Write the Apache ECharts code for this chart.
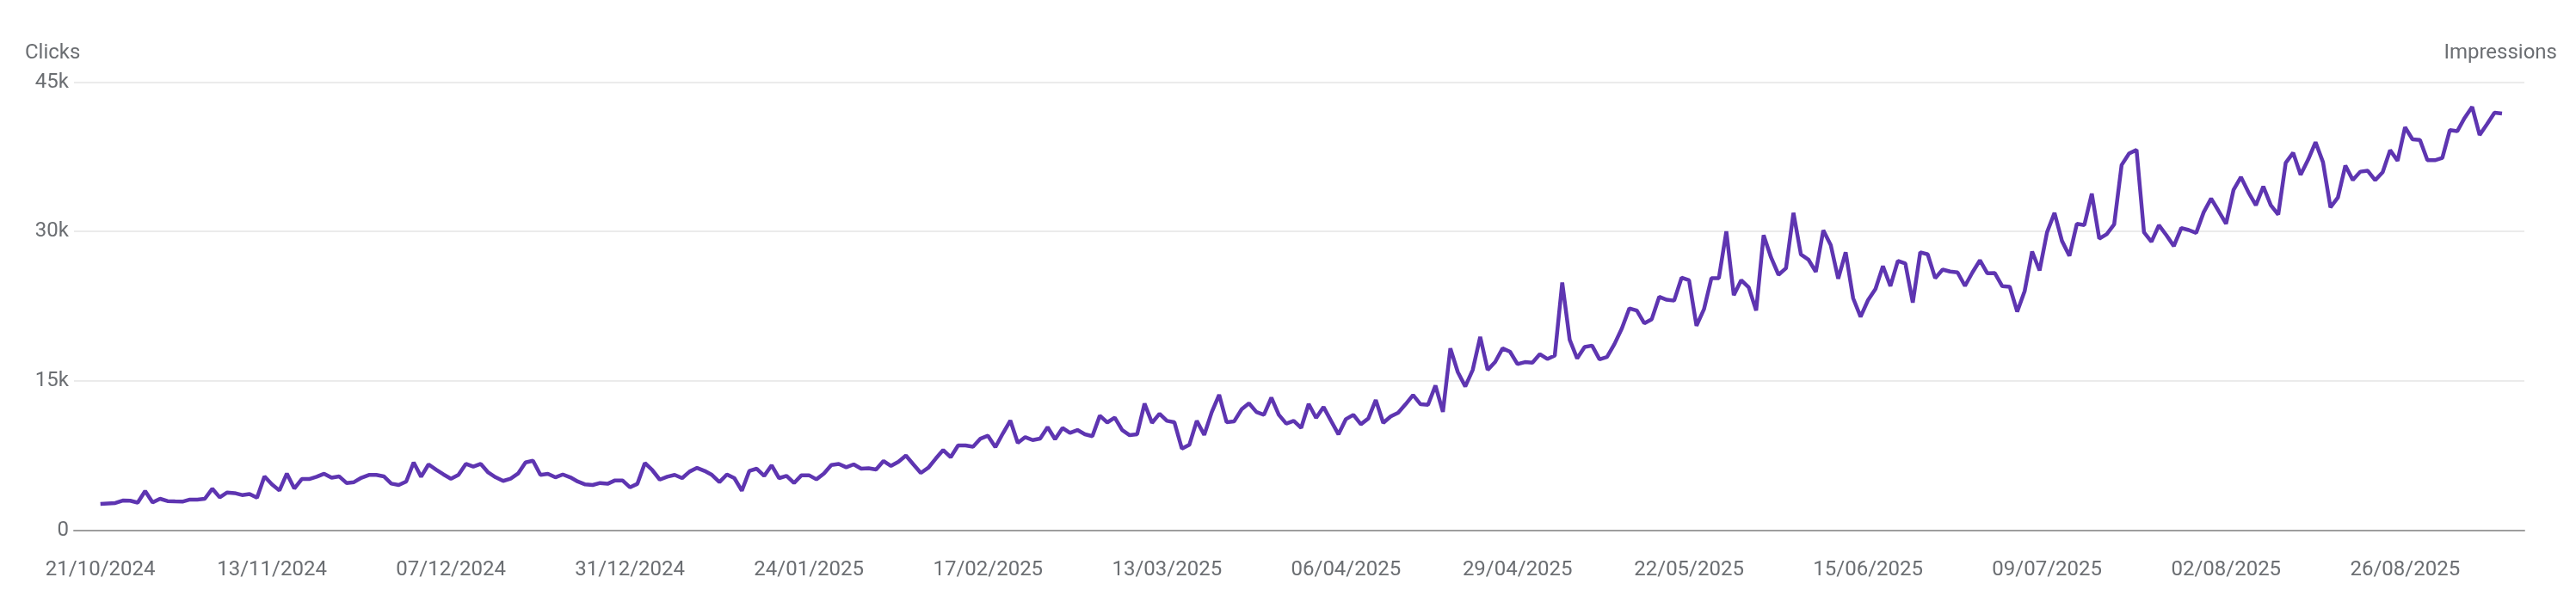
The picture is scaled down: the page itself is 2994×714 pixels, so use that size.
<!DOCTYPE html>
<html>
<head>
<meta charset="utf-8">
<title>Clicks</title>
<script src="https://cdn.jsdelivr.net/npm/echarts@6/dist/echarts.min.js"></script>
<style>
html, body { margin: 0; background: #fff; }
#chart { width: 2994px; height: 714px; }
</style>
</head>
<body>
<div id="chart"></div>
<script>
// daily clicks, one value per day starting 21/10/2024
var clicks = [
  2650, 2700, 2740, 2990, 2970, 2780, 3940, 2800, 3170, 2940,
  2900, 2880, 3090, 3090, 3170, 4175, 3310, 3800, 3740, 3540,
  3650, 3280, 5410, 4610, 4000, 5700, 4200, 5150, 5150, 5380,
  5680, 5280, 5420, 4750, 4840, 5280, 5560, 5560, 5420, 4690,
  4550, 4900, 6820, 5380, 6620, 6100, 5610, 5180, 5560, 6670,
  6390, 6670, 5810, 5320, 4960, 5180, 5700, 6820, 6990, 5560,
  5670, 5320, 5610, 5320, 4900, 4610, 4550, 4750, 4670, 5010,
  5010, 4320, 4670, 6760, 6040, 5090, 5380, 5560, 5240, 5900,
  6270, 5970, 5560, 4840, 5610, 5240, 3970, 5960, 6190, 5470,
  6530, 5240, 5470, 4750, 5530, 5530, 5120, 5700, 6560, 6670,
  6330, 6620, 6190, 6240, 6100, 6960, 6470, 6880, 7510, 6620,
  5760, 6280, 7200, 8060, 7340, 8520, 8520, 8400, 9210, 9500,
  8350, 9730, 11020, 8780, 9360, 9060, 9210, 10360, 9150, 10270,
  9780, 10070, 9640, 9450, 11510, 10830, 11310, 10070, 9550, 9640,
  12720, 10790, 11710, 10990, 10850, 8200, 8580, 10990, 9580, 11860,
  13610, 10850, 10930, 12140, 12750, 11880, 11600, 13320, 11600, 10710,
  10990, 10290, 12690, 11290, 12380, 10990, 9640, 11170, 11600, 10650,
  11230, 13090, 10790, 11430, 11800, 12660, 13580, 12660, 12600, 14530,
  11890, 18270, 15880, 14450, 16110, 19420, 16110, 16900, 18270, 17930,
  16690, 16890, 16830, 17690, 17200, 17550, 24890, 19130, 17260, 18410,
  18550, 17170, 17400, 18700, 20280, 22290, 22060, 20790, 21200, 23440,
  23150, 23060, 25360, 25100, 20540, 22190, 25320, 25320, 30010, 23600,
  25120, 24400, 22070, 29630, 27390, 25660, 26320, 31880, 27700, 27190,
  25950, 30120, 28630, 25260, 27910, 23310, 21440, 23110, 24230, 26530,
  24520, 27050, 26790, 22870, 27910, 27710, 25320, 26180, 25980, 25900,
  24540, 25900, 27110, 25810, 25830, 24510, 24450, 21950, 24020, 27990,
  26090, 29920, 31880, 29060, 27560, 30780, 30640, 33800, 29290, 29730,
  30720, 36680, 37830, 38200, 29920, 28970, 30640, 29630, 28540, 30350,
  30150, 29860, 31930, 33310, 32070, 30780, 34170, 35470, 33940, 32650,
  34520, 32650, 31700, 36900, 37910, 35700, 37200, 38970, 36960, 32420,
  33420, 36620, 35170, 36010, 36100, 35150, 35950, 38170, 37100, 40470,
  39260, 39200, 37160, 37160, 37390, 40180, 40070, 41420, 42510, 39690,
  40790, 41940, 41850
];

// x tick positions (day index) and their labels
var labelDays = [0, 23, 47, 71, 95, 119, 143, 167, 190, 213, 237, 261, 285, 309];
var dateLabels = ['21/10/2024', '13/11/2024', '07/12/2024', '31/12/2024', '24/01/2025',
  '17/02/2025', '13/03/2025', '06/04/2025', '29/04/2025', '22/05/2025',
  '15/06/2025', '09/07/2025', '02/08/2025', '26/08/2025'];

var yTicks = [0, 15000, 30000, 45000];
var yLabels = ['0', '15k', '30k', '45k'];

var labelColor = '#6b6e72';

var chart = echarts.init(document.getElementById('chart'));

var option = {
    animation: false,
    textStyle: { fontFamily: 'Roboto' },
    title: [
        {
            text: 'Clicks',
            left: 29,
            top: 50,
            padding: 0,
            textStyle: { fontSize: 24, fontWeight: 'normal', color: labelColor, fontFamily: 'Roboto' }
        },
        {
            text: 'Impressions',
            right: 22,
            top: 50,
            padding: 0,
            textStyle: { fontSize: 24, fontWeight: 'normal', color: labelColor, fontFamily: 'Roboto' }
        }
    ],
    grid: {
        left: 86,
        right: 60,
        top: 95.5,
        bottom: 97.3
    },
    xAxis: {
        type: 'value',
        min: -3.54,
        max: 325,
        splitLine: { show: false },
        axisTick: { show: false },
        axisLine: { show: true, lineStyle: { color: '#9e9e9e', width: 2 } },
        axisLabel: {
            customValues: labelDays,
            formatter: function (v) {
                var i = labelDays.indexOf(v);
                return i >= 0 ? dateLabels[i] : '';
            },
            margin: 34,
            fontSize: 24,
            color: labelColor
        }
    },
    yAxis: {
        type: 'value',
        min: 0,
        max: 45000,
        interval: 15000,
        axisLine: { show: false },
        axisTick: { show: false },
        splitLine: { lineStyle: { color: '#ebebeb', width: 2 } },
        axisLabel: {
            formatter: function (v) {
                var i = yTicks.indexOf(v);
                return i >= 0 ? yLabels[i] : '';
            },
            margin: 6,
            fontSize: 24,
            color: labelColor
        }
    },
    series: [
        {
            name: 'Clicks',
            type: 'line',
            data: clicks.map(function (v, i) { return [i, v]; }),
            showSymbol: false,
            lineStyle: { width: 4.5, color: '#5e35b1' },
            itemStyle: { color: '#5e35b1' },
            z: 3
        }
    ]
};

chart.setOption(option);
</script>
</body>
</html>
